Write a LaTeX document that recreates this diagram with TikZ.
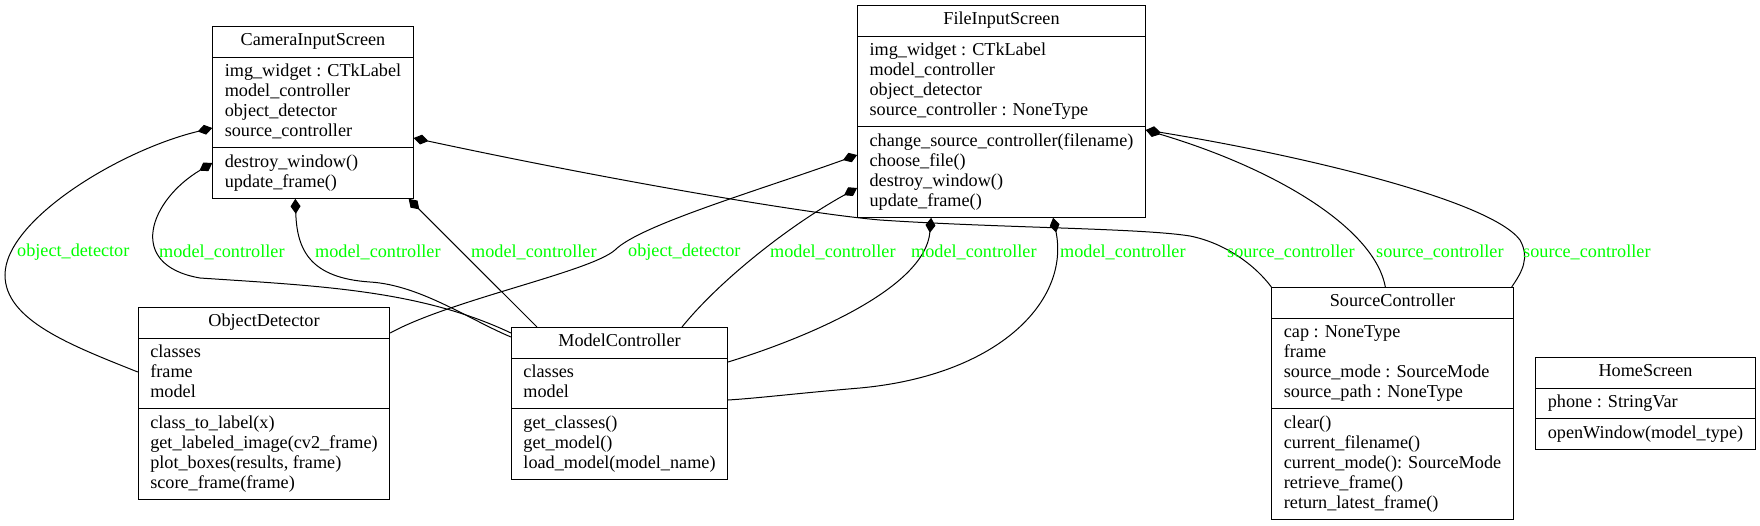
\documentclass[tikz,border=0pt]{standalone}
\usepackage{fontspec}
\setmainfont{Liberation Serif}
\usepackage{tikz}
\usetikzlibrary{calc,shapes.multipart,arrows.meta}
\usepackage{xcolor}
\definecolor{labelgreen}{HTML}{00FF00}
\newcommand{\umlfont}{\fontsize{18.2}{20}\selectfont}

\begin{document}
\begin{tikzpicture}[x=1pt,y=-1pt,
    umlclass/.style={draw, line width=1pt, rectangle split, rectangle split parts=3,
        rectangle split part align={center,left,left}, align=left,
        inner xsep=12pt, inner ysep=4.8pt, anchor=north, font=\umlfont},
    comp/.style={{Diamond[length=15pt,width=10pt]}-, line width=1pt},
    rolename/.style={text=labelgreen, font=\umlfont, anchor=west, inner sep=0pt}]
    \useasboundingbox (0,0) rectangle (1760,525);
    \node[umlclass] (cam) at (313,26) {\strut CameraInputScreen
        \nodepart{two}\strut img\_widget : CTkLabel\\\strut model\_controller\\\strut object\_detector\\\strut source\_controller
        \nodepart{three}\strut destroy\_window()\\\strut update\_frame()};
    \node[umlclass] (file) at (1001.5,5) {\strut FileInputScreen
        \nodepart{two}\strut img\_widget : CTkLabel\\\strut model\_controller\\\strut object\_detector\\\strut source\_controller : NoneType
        \nodepart{three}\strut change\_source\_controller(filename)\\\strut choose\_file()\\\strut destroy\_window()\\\strut update\_frame()};
    \node[umlclass] (od) at (264,307) {\strut ObjectDetector
        \nodepart{two}\strut classes\\\strut frame\\\strut model
        \nodepart{three}\strut class\_to\_label(x)\\\strut get\_labeled\_image(cv2\_frame)\\\strut plot\_boxes(results, frame)\\\strut score\_frame(frame)};
    \node[umlclass] (mc) at (619.5,327) {\strut ModelController
        \nodepart{two}\strut classes\\\strut model
        \nodepart{three}\strut get\_classes()\\\strut get\_model()\\\strut load\_model(model\_name)};
    \node[umlclass] (sc) at (1392.5,287) {\strut SourceController
        \nodepart{two}\strut cap : NoneType\\\strut frame\\\strut source\_mode : SourceMode\\\strut source\_path : NoneType
        \nodepart{three}\strut clear()\\\strut current\_filename()\\\strut current\_mode(): SourceMode\\\strut retrieve\_frame()\\\strut return\_latest\_frame()};
    \node[umlclass] (home) at (1645.5,357) {\strut HomeScreen
        \nodepart{two}\strut phone : StringVar
        \nodepart{three}\strut openWindow(model\_type)};

    \draw[comp] ($(cam.north west)+(0,102)$) .. controls (120,150) and (5,220) .. (5,275) .. controls (5,320) and (70,345) .. ($(od.north west)+(0,65)$);
    \draw[comp] ($(cam.north west)+(0,137)$) .. controls (150,200) and (125,265) .. (200,278) .. controls (320,286) and (420,290) .. ($(mc.north west)+(0,6)$);
    \draw[comp] ($(cam.south west)+(83,0)$) .. controls (297,250) and (310,278) .. (370,282) .. controls (420,285) and (470,320) .. ($(mc.north west)+(0,10)$);
    \draw[comp] ($(cam.south east)+(-5,0)$) -- ($(mc.north west)+(26,0)$);
    \draw[comp] ($(cam.north east)+(0,112)$) .. controls (600,178) and (800,213) .. (880,220) .. controls (1000,228) and (1140,228) .. (1190,236) .. controls (1225,243) and (1255,265) .. (sc.north west);
    \draw[comp] ($(file.north west)+(0,150)$) .. controls (760,190) and (640,225) .. (615,250) .. controls (590,272) and (450,300) .. ($(od.north east)+(0,26)$);
    \draw[comp] ($(file.north west)+(0,183)$) .. controls (790,225) and (720,280) .. ($(mc.north west)+(171,0)$);
    \draw[comp] ($(file.south west)+(74,0)$) .. controls (925,290) and (800,340) .. ($(mc.north east)+(0,35)$);
    \draw[comp] ($(file.south west)+(196,0)$) .. controls (1070,300) and (1000,375) .. (860,388) .. controls (800,393) and (760,398) .. ($(mc.north east)+(0,73)$);
    \draw[comp] ($(file.north east)+(0,125)$) .. controls (1280,170) and (1375,230) .. ($(sc.north west)+(114,0)$);
    \draw[comp] ($(file.north east)+(0,125)$) .. controls (1300,155) and (1490,200) .. (1520,240) .. controls (1530,258) and (1522,272) .. ($(sc.north east)+(-2,0)$);

    \node[rolename] (odcam) at (17,252) {object\_detector};
    \node[rolename] (mccam1) at (159,252) {model\_controller};
    \node[rolename] (mccam2) at (315,252) {model\_controller};
    \node[rolename] (mccam3) at (471,252) {model\_controller};
    \node[rolename] (odfile) at (628,252) {object\_detector};
    \node[rolename] (mcfile1) at (770,252) {model\_controller};
    \node[rolename] (mcfile2) at (911,252) {model\_controller};
    \node[rolename] (mcfile3) at (1060,252) {model\_controller};
    \node[rolename] (sccam) at (1227,252) {source\_controller};
    \node[rolename] (scfile1) at (1376,252) {source\_controller};
    \node[rolename] (scfile2) at (1523,252) {source\_controller};
\end{tikzpicture}
\end{document}
